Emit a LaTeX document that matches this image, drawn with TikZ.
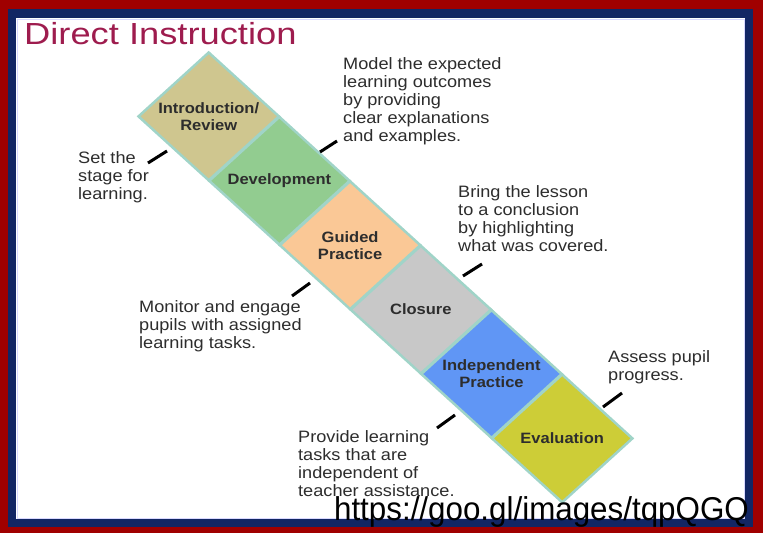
\documentclass[tikz,border=0pt]{standalone}
\usepackage{fontspec}
\setmainfont{Liberation Sans}[FakeStretch=1.1]
\newfontfamily\titlefont{Liberation Sans}[FakeStretch=1.19]
\newfontfamily\urlfont{Liberation Sans}[FakeStretch=0.95]
\usetikzlibrary{shapes.geometric, positioning, calc}
\definecolor{frameRed}{RGB}{160,0,0}
\definecolor{frameNavy}{RGB}{18,38,100}
\definecolor{titleRed}{RGB}{158,28,78}
\definecolor{bandEdge}{RGB}{160,212,200}
\definecolor{introCol}{RGB}{207,198,143}
\definecolor{devCol}{RGB}{146,204,144}
\definecolor{guidedCol}{RGB}{250,200,150}
\definecolor{closureCol}{RGB}{200,200,200}
\definecolor{indepCol}{RGB}{96,150,245}
\definecolor{evalCol}{RGB}{205,205,55}
\definecolor{noteText}{RGB}{45,45,45}
\tikzset{
    stage/.style={
        shape=diamond, draw=bandEdge, line width=2.5pt, aspect=1.1,
        inner sep=0pt, minimum width=141.4pt, minimum height=128.8pt,
        align=center, text=noteText,
        font=\fontsize{15}{17}\selectfont\bfseries
    },
    note/.style={
        anchor=north west, align=left, inner sep=0pt, text=noteText,
        font=\fontsize{16.5}{18}\selectfont
    },
    tick/.style={line width=3pt, black}
}

\begin{document}
\begin{tikzpicture}[x=1pt, y=-1pt]
    \def \hx {70.7}
    \def \hy {64.4}
    % frame
    \fill[frameRed] (0,0) rectangle (763,533);
    \fill[frameNavy] (8,9) rectangle (753,527);
    \fill[white] (16,18) rectangle (745,519);
    \draw[blue!15, line width=1pt] (17,19) rectangle (744,518);
    \useasboundingbox (0,0) rectangle (763,533);
    \node[anchor=base west, inner sep=0pt, text=titleRed,
          font=\fontsize{30.5}{32}\selectfont\titlefont] (title) at (24,44) {Direct Instruction};
    % the six stages
    \node[stage, fill=introCol]   (intro)   at (208.7, 116.4)       {Introduction/\\Review};
    \node[stage, fill=devCol]     (dev)     at (208.7+\hx, 116.4+\hy)   {Development};
    \node[stage, fill=guidedCol]  (guided)  at (208.7+2*\hx, 116.4+2*\hy) {Guided\\Practice};
    \node[stage, fill=closureCol] (closure) at (208.7+3*\hx, 116.4+3*\hy) {Closure};
    \node[stage, fill=indepCol]   (indep)   at (208.7+4*\hx, 116.4+4*\hy) {Independent\\Practice};
    \node[stage, fill=evalCol]    (eval)    at (208.7+5*\hx, 116.4+5*\hy) {Evaluation};
    % notes
    \node[note] (setnote)     at (78,151)  {Set the\\stage for\\learning.};
    \node[note] (modelnote)   at (343,57)  {Model the expected\\learning outcomes\\by providing\\clear explanations\\and examples.};
    \node[note] (bringnote)   at (458,185) {Bring the lesson\\to a conclusion\\by highlighting\\what was covered.};
    \node[note] (monitornote) at (139,300) {Monitor and engage\\pupils with assigned\\learning tasks.};
    \node[note] (assessnote)  at (608,350) {Assess pupil\\progress.};
    \node[note] (providenote) at (298,430) {Provide learning\\tasks that are\\independent of\\teacher assistance.};
    % ticks
    \coordinate (t1a) at (148,163); \coordinate (t1b) at (167,151);
    \coordinate (t2a) at (320,152); \coordinate (t2b) at (337,141);
    \coordinate (t3a) at (463,276); \coordinate (t3b) at (482,264);
    \coordinate (t4a) at (292,296); \coordinate (t4b) at (310,283);
    \coordinate (t5a) at (603,407); \coordinate (t5b) at (622,393);
    \coordinate (t6a) at (437,428); \coordinate (t6b) at (455,415);
    \draw[tick] (t1a) -- (t1b);
    \draw[tick] (t2a) -- (t2b);
    \draw[tick] (t3a) -- (t3b);
    \draw[tick] (t4a) -- (t4b);
    \draw[tick] (t5a) -- (t5b);
    \draw[tick] (t6a) -- (t6b);
    \node[anchor=base east, inner sep=0pt, font=\fontsize{33}{35}\selectfont\urlfont] (url) at (749,520) {https://goo.gl/images/tqpQGQ};
\end{tikzpicture}
\end{document}
